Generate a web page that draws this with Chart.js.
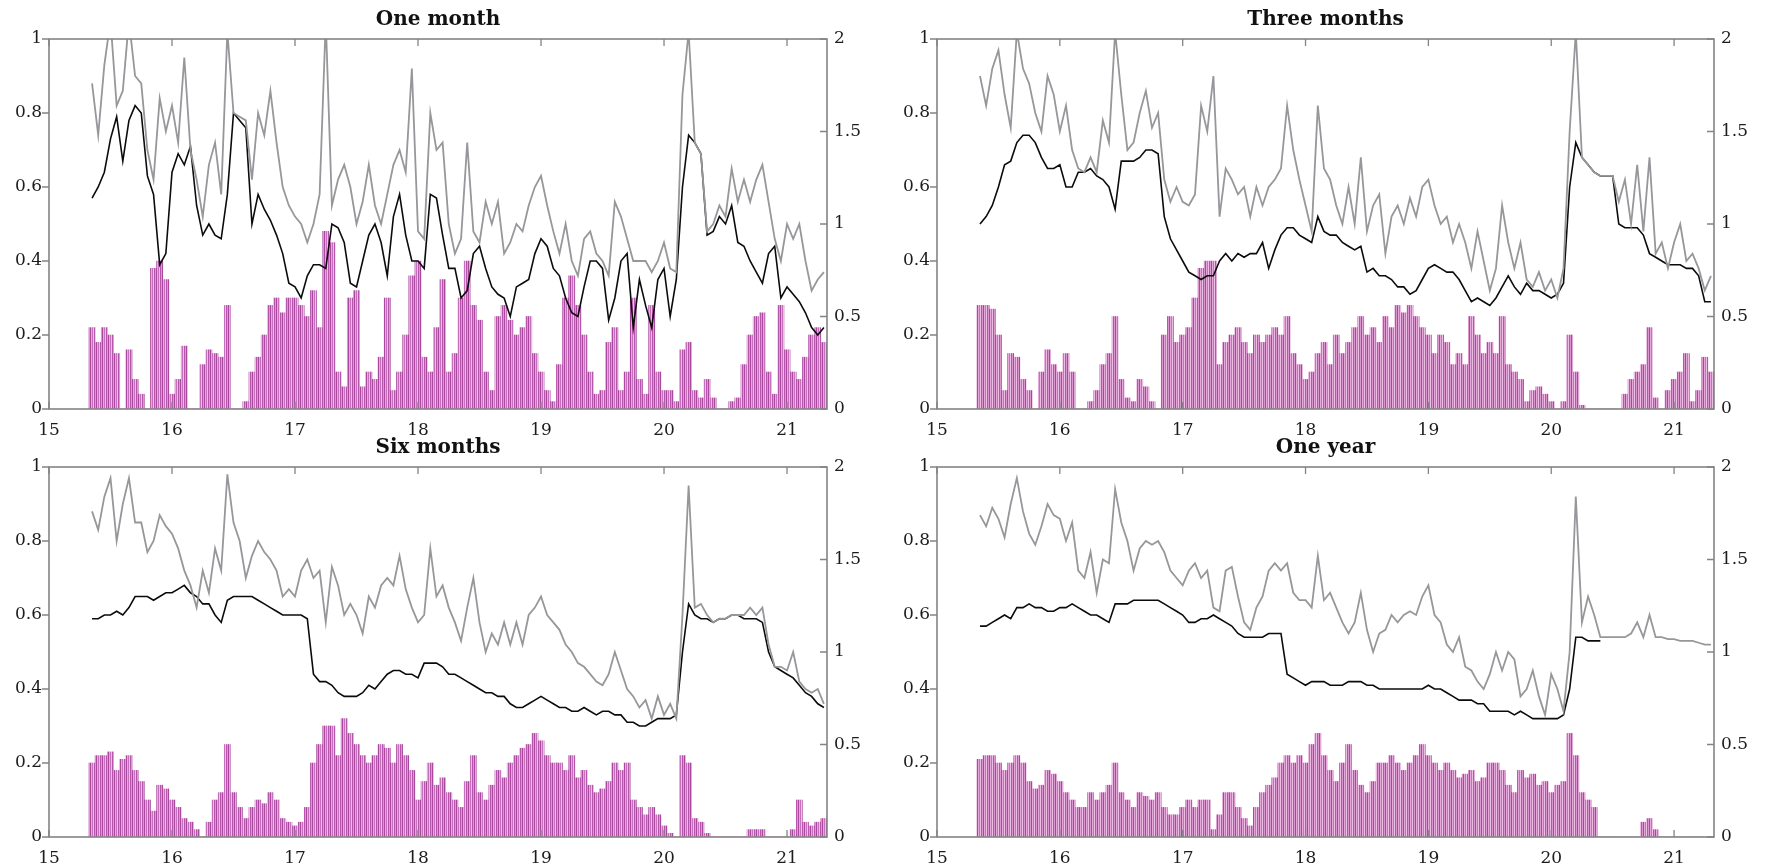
<!DOCTYPE html>
<html><head><meta charset="utf-8">
<script src="https://cdn.jsdelivr.net/npm/chart.js@4.4.1/dist/chart.umd.min.js"></script>
<style>
html,body{margin:0;padding:0;background:#fff;width:1765px;height:868px;overflow:hidden}
canvas{position:absolute;display:block}
</style></head><body>
<canvas id="c1"></canvas><canvas id="c2"></canvas><canvas id="c3"></canvas><canvas id="c4"></canvas>
<script>
// ---- categories / ticks ----
const X_START = 15.35, X_STEP = 0.05, N_POINTS = 120;
const YEARS = Array.from({length: N_POINTS}, (_, i) => +(X_START + i * X_STEP).toFixed(2));
const X_TICKS = [15, 16, 17, 18, 19, 20, 21];
const LEFT_TICKS = [0, 0.2, 0.4, 0.6, 0.8, 1];
const RIGHT_TICKS = [0, 0.5, 1, 1.5, 2];
const TITLES = ['One month', 'Three months', 'Six months', 'One year'];

// ---- One month ----
const BLACK_1M = [
0.57,0.60,0.64,0.73,0.79,0.67,0.78,0.82,0.80,0.63,
0.58,0.39,0.42,0.64,0.69,0.66,0.71,0.55,0.47,0.50,
0.47,0.46,0.58,0.80,0.78,0.76,0.50,0.58,0.54,0.51,
0.47,0.42,0.34,0.33,0.30,0.36,0.39,0.39,0.38,0.50,
0.49,0.45,0.34,0.33,0.40,0.47,0.50,0.45,0.36,0.52,
0.58,0.47,0.40,0.40,0.38,0.58,0.57,0.47,0.38,0.38,
0.30,0.32,0.42,0.44,0.38,0.33,0.31,0.30,0.25,0.33,
0.34,0.35,0.42,0.46,0.44,0.38,0.36,0.30,0.26,0.25,
0.33,0.40,0.40,0.38,0.24,0.30,0.40,0.42,0.22,0.35,
0.28,0.22,0.35,0.38,0.25,0.35,0.60,0.74,0.72,0.69,
0.47,0.48,0.52,0.50,0.55,0.45,0.44,0.40,0.37,0.34,
0.42,0.44,0.30,0.33,0.31,0.29,0.26,0.22,0.20,0.22];
const GREY_1M = [
0.88,0.74,0.93,1.05,0.82,0.86,1.05,0.90,0.88,0.70,
0.62,0.84,0.75,0.82,0.72,0.95,0.70,0.62,0.52,0.66,
0.72,0.58,1.02,0.80,0.79,0.78,0.62,0.80,0.74,0.86,
0.72,0.60,0.55,0.52,0.50,0.45,0.50,0.58,1.05,0.55,
0.62,0.66,0.60,0.50,0.56,0.66,0.55,0.50,0.58,0.66,
0.70,0.64,0.92,0.48,0.46,0.80,0.70,0.72,0.50,0.42,
0.46,0.72,0.48,0.45,0.56,0.50,0.56,0.42,0.45,0.50,
0.48,0.55,0.60,0.63,0.55,0.48,0.42,0.50,0.40,0.36,
0.46,0.48,0.42,0.40,0.36,0.56,0.52,0.46,0.40,0.40,
0.40,0.37,0.40,0.45,0.38,0.37,0.85,1.02,0.72,0.69,
0.48,0.50,0.55,0.52,0.65,0.56,0.62,0.56,0.62,0.66,
0.56,0.46,0.40,0.50,0.46,0.50,0.40,0.32,0.35,0.37];
const BARS_1M = [
0.22,0.18,0.22,0.20,0.15,0.00,0.16,0.08,0.04,0.00,
0.38,0.40,0.35,0.04,0.08,0.17,0.00,0.00,0.12,0.16,
0.15,0.14,0.28,0.00,0.00,0.02,0.10,0.14,0.20,0.28,
0.30,0.26,0.30,0.30,0.28,0.25,0.32,0.22,0.48,0.45,
0.10,0.06,0.30,0.32,0.06,0.10,0.08,0.14,0.30,0.05,
0.10,0.20,0.36,0.40,0.14,0.10,0.22,0.35,0.10,0.15,
0.30,0.40,0.28,0.24,0.10,0.05,0.25,0.28,0.24,0.20,
0.22,0.25,0.15,0.10,0.05,0.02,0.12,0.30,0.36,0.28,
0.20,0.10,0.04,0.05,0.18,0.22,0.05,0.10,0.30,0.08,
0.04,0.28,0.10,0.05,0.05,0.02,0.16,0.18,0.05,0.03,
0.08,0.03,0.00,0.00,0.02,0.03,0.12,0.20,0.25,0.26,
0.10,0.04,0.28,0.16,0.10,0.08,0.14,0.20,0.22,0.18];

// ---- Three months ----
const BLACK_3M = [
0.50,0.52,0.55,0.60,0.66,0.67,0.72,0.74,0.74,0.72,
0.68,0.65,0.65,0.66,0.60,0.60,0.64,0.64,0.65,0.63,
0.62,0.60,0.54,0.67,0.67,0.67,0.68,0.70,0.70,0.69,
0.52,0.46,0.43,0.40,0.37,0.36,0.35,0.36,0.36,0.40,
0.42,0.40,0.42,0.41,0.42,0.42,0.45,0.38,0.43,0.47,
0.49,0.49,0.47,0.46,0.45,0.52,0.48,0.47,0.47,0.45,
0.44,0.43,0.44,0.37,0.38,0.36,0.36,0.35,0.33,0.33,
0.31,0.32,0.35,0.38,0.39,0.38,0.37,0.37,0.35,0.32,
0.29,0.30,0.29,0.28,0.30,0.33,0.36,0.33,0.31,0.34,
0.32,0.32,0.31,0.30,0.31,0.34,0.60,0.72,0.68,0.66,
0.64,0.63,0.63,0.63,0.50,0.49,0.49,0.49,0.47,0.42,
0.41,0.40,0.39,0.39,0.39,0.38,0.38,0.36,0.29,0.29];
const GREY_3M = [
0.90,0.82,0.92,0.97,0.85,0.76,1.02,0.92,0.88,0.80,
0.75,0.90,0.85,0.75,0.82,0.70,0.65,0.64,0.68,0.64,
0.78,0.72,1.02,0.85,0.70,0.72,0.80,0.86,0.76,0.80,
0.62,0.56,0.60,0.56,0.55,0.58,0.82,0.75,0.90,0.52,
0.65,0.62,0.58,0.60,0.52,0.60,0.55,0.60,0.62,0.65,
0.82,0.70,0.62,0.55,0.48,0.82,0.65,0.62,0.55,0.50,
0.60,0.50,0.68,0.48,0.55,0.58,0.42,0.52,0.55,0.50,
0.57,0.52,0.60,0.62,0.55,0.50,0.52,0.45,0.50,0.45,
0.38,0.48,0.40,0.32,0.38,0.55,0.45,0.38,0.45,0.35,
0.33,0.37,0.32,0.35,0.30,0.38,0.75,1.02,0.68,0.66,
0.64,0.63,0.63,0.63,0.56,0.62,0.50,0.66,0.48,0.68,
0.42,0.45,0.38,0.45,0.50,0.40,0.42,0.38,0.32,0.36];
const BARS_3M = [
0.28,0.28,0.27,0.20,0.05,0.15,0.14,0.08,0.05,0.00,
0.10,0.16,0.12,0.10,0.15,0.10,0.00,0.00,0.02,0.05,
0.12,0.15,0.25,0.08,0.03,0.02,0.08,0.06,0.02,0.00,
0.20,0.25,0.18,0.20,0.22,0.30,0.38,0.40,0.40,0.12,
0.18,0.20,0.22,0.18,0.15,0.20,0.18,0.20,0.22,0.20,
0.25,0.15,0.12,0.08,0.10,0.15,0.18,0.12,0.20,0.15,
0.18,0.22,0.25,0.20,0.22,0.18,0.25,0.22,0.28,0.26,
0.28,0.25,0.22,0.20,0.15,0.20,0.18,0.12,0.15,0.12,
0.25,0.20,0.15,0.18,0.15,0.25,0.12,0.10,0.08,0.02,
0.05,0.06,0.04,0.02,0.00,0.02,0.20,0.10,0.01,0.00,
0.00,0.00,0.00,0.00,0.00,0.04,0.08,0.10,0.12,0.22,
0.03,0.00,0.05,0.08,0.10,0.15,0.02,0.05,0.14,0.10];

// ---- Six months ----
const BLACK_6M = [
0.59,0.59,0.60,0.60,0.61,0.60,0.62,0.65,0.65,0.65,
0.64,0.65,0.66,0.66,0.67,0.68,0.66,0.65,0.63,0.63,
0.60,0.58,0.64,0.65,0.65,0.65,0.65,0.64,0.63,0.62,
0.61,0.60,0.60,0.60,0.60,0.59,0.44,0.42,0.42,0.41,
0.39,0.38,0.38,0.38,0.39,0.41,0.40,0.42,0.44,0.45,
0.45,0.44,0.44,0.43,0.47,0.47,0.47,0.46,0.44,0.44,
0.43,0.42,0.41,0.40,0.39,0.39,0.38,0.38,0.36,0.35,
0.35,0.36,0.37,0.38,0.37,0.36,0.35,0.35,0.34,0.34,
0.35,0.34,0.33,0.34,0.34,0.33,0.33,0.31,0.31,0.30,
0.30,0.31,0.32,0.32,0.32,0.33,0.50,0.63,0.60,0.59,
0.59,0.58,0.59,0.59,0.60,0.60,0.59,0.59,0.59,0.58,
0.50,0.46,0.45,0.44,0.43,0.41,0.39,0.38,0.36,0.35];
const GREY_6M = [
0.88,0.83,0.92,0.97,0.80,0.90,0.97,0.85,0.85,0.77,
0.80,0.87,0.84,0.82,0.78,0.72,0.68,0.62,0.72,0.66,
0.78,0.72,0.98,0.85,0.80,0.70,0.76,0.80,0.77,0.75,
0.72,0.65,0.67,0.65,0.72,0.75,0.70,0.72,0.58,0.73,
0.68,0.60,0.63,0.60,0.55,0.65,0.62,0.68,0.70,0.68,
0.76,0.67,0.62,0.58,0.60,0.78,0.65,0.68,0.62,0.58,
0.53,0.62,0.70,0.58,0.50,0.55,0.52,0.58,0.52,0.58,
0.52,0.60,0.62,0.65,0.60,0.58,0.56,0.52,0.50,0.47,
0.46,0.44,0.42,0.41,0.44,0.50,0.45,0.40,0.38,0.35,
0.37,0.32,0.38,0.33,0.36,0.32,0.60,0.95,0.62,0.63,
0.60,0.58,0.59,0.59,0.60,0.60,0.60,0.62,0.60,0.62,
0.52,0.46,0.46,0.45,0.50,0.42,0.40,0.39,0.40,0.36];
const BARS_6M = [
0.20,0.22,0.22,0.23,0.18,0.21,0.22,0.18,0.15,0.10,
0.07,0.14,0.13,0.10,0.08,0.05,0.04,0.02,0.00,0.04,
0.10,0.12,0.25,0.12,0.08,0.05,0.08,0.10,0.09,0.12,
0.10,0.05,0.04,0.03,0.04,0.08,0.20,0.25,0.30,0.30,
0.22,0.32,0.28,0.25,0.22,0.20,0.22,0.25,0.24,0.20,
0.25,0.22,0.18,0.10,0.15,0.20,0.14,0.16,0.12,0.10,
0.08,0.15,0.22,0.12,0.10,0.14,0.18,0.16,0.20,0.22,
0.24,0.25,0.28,0.26,0.22,0.20,0.20,0.18,0.22,0.16,
0.18,0.14,0.12,0.13,0.15,0.20,0.18,0.20,0.10,0.08,
0.06,0.08,0.06,0.03,0.01,0.00,0.22,0.20,0.05,0.04,
0.01,0.00,0.00,0.00,0.00,0.00,0.00,0.02,0.02,0.02,
0.00,0.00,0.00,0.00,0.02,0.10,0.04,0.03,0.04,0.05];

// ---- One year ----
const BLACK_1Y = [
0.57,0.57,0.58,0.59,0.60,0.59,0.62,0.62,0.63,0.62,
0.62,0.61,0.61,0.62,0.62,0.63,0.62,0.61,0.60,0.60,
0.59,0.58,0.63,0.63,0.63,0.64,0.64,0.64,0.64,0.64,
0.63,0.62,0.61,0.60,0.58,0.58,0.59,0.59,0.60,0.59,
0.58,0.57,0.55,0.54,0.54,0.54,0.54,0.55,0.55,0.55,
0.44,0.43,0.42,0.41,0.42,0.42,0.42,0.41,0.41,0.41,
0.42,0.42,0.42,0.41,0.41,0.40,0.40,0.40,0.40,0.40,
0.40,0.40,0.40,0.41,0.40,0.40,0.39,0.38,0.37,0.37,
0.37,0.36,0.36,0.34,0.34,0.34,0.34,0.33,0.34,0.33,
0.32,0.32,0.32,0.32,0.32,0.33,0.40,0.54,0.54,0.53,
0.53,0.53,null,null,null,null,null,null,null,null,
null,null,null,null,null,null,null,null,null,null];
const GREY_1Y = [
0.87,0.84,0.89,0.86,0.81,0.90,0.97,0.88,0.82,0.79,
0.84,0.90,0.87,0.86,0.80,0.85,0.72,0.70,0.77,0.66,
0.75,0.74,0.94,0.85,0.80,0.72,0.78,0.80,0.79,0.80,
0.77,0.72,0.70,0.68,0.72,0.74,0.70,0.72,0.62,0.61,
0.72,0.73,0.65,0.58,0.56,0.62,0.65,0.72,0.74,0.72,
0.74,0.66,0.64,0.64,0.62,0.76,0.64,0.66,0.62,0.58,
0.55,0.58,0.66,0.56,0.50,0.55,0.56,0.60,0.58,0.60,
0.61,0.60,0.65,0.68,0.60,0.58,0.52,0.50,0.54,0.46,
0.45,0.42,0.40,0.44,0.50,0.45,0.50,0.48,0.38,0.40,
0.45,0.38,0.33,0.44,0.40,0.34,0.50,0.92,0.58,0.65,
0.60,0.54,0.54,0.54,0.54,0.54,0.55,0.58,0.54,0.60,
0.54,0.54,0.535,0.535,0.53,0.53,0.53,0.525,0.52,0.52];
const BARS_1Y = [
0.21,0.22,0.22,0.20,0.18,0.20,0.22,0.20,0.15,0.13,
0.14,0.18,0.17,0.15,0.12,0.10,0.08,0.08,0.12,0.10,
0.12,0.14,0.20,0.12,0.10,0.08,0.12,0.11,0.10,0.12,
0.08,0.06,0.06,0.08,0.10,0.08,0.10,0.10,0.02,0.06,
0.12,0.12,0.08,0.05,0.03,0.08,0.12,0.14,0.16,0.20,
0.22,0.20,0.22,0.20,0.25,0.28,0.22,0.18,0.15,0.20,
0.25,0.18,0.14,0.12,0.15,0.20,0.20,0.22,0.20,0.18,
0.20,0.22,0.25,0.22,0.20,0.18,0.20,0.18,0.16,0.17,
0.18,0.15,0.16,0.20,0.20,0.18,0.14,0.12,0.18,0.16,
0.17,0.14,0.15,0.12,0.14,0.15,0.28,0.22,0.12,0.10,
0.08,0.00,0.00,0.00,0.00,0.00,0.00,0.00,0.04,0.05,
0.02,0.00,0.00,0.00,0.00,0.00,0.00,0.00,0.00,0.00];

const SERIES = [
  [BLACK_1M, GREY_1M, BARS_1M],
  [BLACK_3M, GREY_3M, BARS_3M],
  [BLACK_6M, GREY_6M, BARS_6M],
  [BLACK_1Y, GREY_1Y, BARS_1Y]
];

// ---- layout (positions / sizes only) ----
const PANELS = [
  {id:'c1', left:0,   top:0,   w:887, h:439, lw:49, rw:60, xh:30},
  {id:'c2', left:887, top:0,   w:878, h:439, lw:50, rw:51, xh:30},
  {id:'c3', left:0,   top:428, w:887, h:440, lw:49, rw:60, xh:31},
  {id:'c4', left:887, top:428, w:878, h:440, lw:50, rw:51, xh:31}
];
const X_MAX = 21.325;
const FONT = 'DejaVu Serif';

function pts(arr){ return arr.map((v,i)=>({x: YEARS[i], y: v})); }

function stripePattern(ctx){
  const off = document.createElement('canvas');
  const cols = ['rgb(170,72,160)','rgb(228,168,218)','rgb(196,112,186)','rgb(236,190,228)','rgb(180,86,170)','rgb(220,150,208)'];
  off.width = cols.length; off.height = 1;
  const o = off.getContext('2d');
  cols.forEach((c,i)=>{ o.fillStyle=c; o.fillRect(i,0,1,1); });
  return ctx.createPattern(off,'repeat');
}

const framePlugin = {
  id:'frame',
  afterDatasetsDraw(chart){
    const {ctx, chartArea:a, scales} = chart;
    const TL = 7;
    ctx.save();
    ctx.strokeStyle = '#848484';
    ctx.lineWidth = 1.6;
    ctx.strokeRect(a.left, a.top, a.right - a.left, a.bottom - a.top);
    ctx.lineWidth = 1.3;
    ctx.beginPath();
    X_TICKS.forEach(v=>{
      const x = scales.x.getPixelForValue(v);
      ctx.moveTo(x, a.top); ctx.lineTo(x, a.top + TL);
      ctx.moveTo(x, a.bottom); ctx.lineTo(x, a.bottom - TL);
    });
    LEFT_TICKS.forEach(v=>{
      const y = scales.y.getPixelForValue(v);
      ctx.moveTo(a.left, y); ctx.lineTo(a.left - TL, y);
    });
    RIGHT_TICKS.forEach(v=>{
      const y = scales.y2.getPixelForValue(v);
      ctx.moveTo(a.right, y); ctx.lineTo(a.right - TL, y);
    });
    ctx.stroke();
    ctx.restore();
  }
};

PANELS.forEach((p, k)=>{
  const cv = document.getElementById(p.id);
  cv.width = p.w; cv.height = p.h;
  cv.style.left = p.left + 'px'; cv.style.top = p.top + 'px';
  cv.style.width = p.w + 'px'; cv.style.height = p.h + 'px';
  const ctx = cv.getContext('2d');
  const [black, grey, bars] = SERIES[k];
  const tickFont = {family: FONT, size: 17};
  const axisCommon = {
    grid:{display:false, drawTicks:false},
    border:{display:false}
  };
  new Chart(ctx, {
    type:'line',
    data:{datasets:[
      {type:'line', label:'grey', data:pts(grey), borderColor:'#97979b', borderWidth:1.8,
       pointRadius:0, tension:0, order:0, yAxisID:'y', spanGaps:false},
      {type:'line', label:'black', data:pts(black), borderColor:'#0b0b0b', borderWidth:1.6,
       pointRadius:0, tension:0, order:1, yAxisID:'y', spanGaps:false},
      {type:'bar', label:'bars', data:pts(bars), backgroundColor:stripePattern(ctx), borderWidth:0,
       barPercentage:1, categoryPercentage:1, grouped:false, order:2, yAxisID:'y'}
    ]},
    options:{
      responsive:false, animation:false, events:[],
      layout:{padding:0},
      plugins:{
        legend:{display:false}, tooltip:{enabled:false},
        title:{display:true, text:TITLES[k], color:'#111', fullSize:false,
          font:{family:FONT, size:20, weight:'bold', lineHeight:1.2},
          padding:{top:8, bottom:7}}
      },
      scales:{
        x:Object.assign({}, axisCommon, {
          type:'linear', min:15, max:X_MAX, offset:false,
          afterBuildTicks:s=>{ s.ticks = X_TICKS.map(v=>({value:v})); },
          afterFit:s=>{ s.height = p.xh; },
          ticks:{font:tickFont, color:'#1c1c1c', padding:11, maxRotation:0, autoSkip:false, callback:v=>String(v)}
        }),
        y:Object.assign({}, axisCommon, {
          type:'linear', position:'left', min:0, max:1,
          afterBuildTicks:s=>{ s.ticks = LEFT_TICKS.map(v=>({value:v})); },
          afterFit:s=>{ s.width = p.lw; },
          ticks:{font:tickFont, color:'#1c1c1c', padding:7, autoSkip:false, callback:v=>String(v)}
        }),
        y2:Object.assign({}, axisCommon, {
          type:'linear', position:'right', min:0, max:2,
          afterBuildTicks:s=>{ s.ticks = RIGHT_TICKS.map(v=>({value:v})); },
          afterFit:s=>{ s.width = p.rw; },
          ticks:{font:tickFont, color:'#1c1c1c', padding:7, autoSkip:false, callback:v=>String(v)}
        })
      }
    },
    plugins:[framePlugin]
  });
});
</script>
</body></html>
